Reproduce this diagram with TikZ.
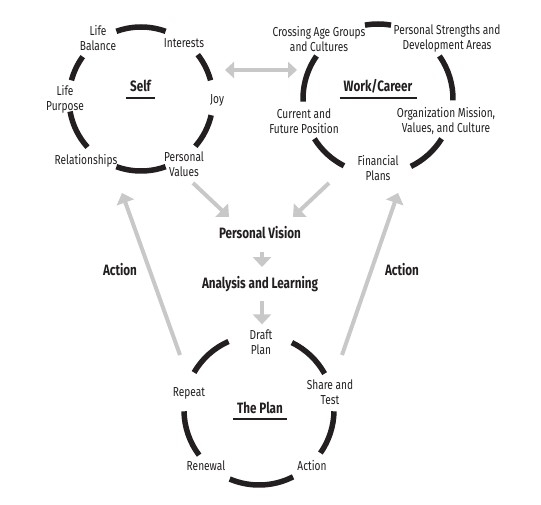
\documentclass[tikz,border=0pt]{standalone}
\usepackage{fontspec}
\setmainfont{Fira Sans}[FakeStretch=0.78]
\usetikzlibrary{arrows.meta}
\definecolor{ringblack}{RGB}{35,31,32}
\definecolor{flowgray}{RGB}{200,200,200}
\begin{document}
\begin{tikzpicture}[x=1pt,y=1pt,
    every node/.style={inner sep=0pt,align=center,text=ringblack,font=\fontsize{13}{15}\selectfont},
    ring/.style={draw=ringblack,line width=5.5pt},
    flow/.style={draw=flowgray,line width=4pt,-{Triangle[length=10pt,width=18pt]}},
    twoway/.style={flow,{Triangle[length=9pt,width=16pt]}-{Triangle[length=9pt,width=16pt]}},
    title/.style={anchor=base,font=\bfseries\fontsize{15}{17}\selectfont},
    heading/.style={font=\bfseries\fontsize{15}{17}\selectfont},
    uline/.style={draw=ringblack,line width=1.8pt}]
  \useasboundingbox (0,0) rectangle (541,504);
  % Self
  \draw[ring] (141,405) ++(70:72) arc[start angle=70,end angle=110,radius=72pt];
  \draw[ring] (141,405) ++(144:72) arc[start angle=144,end angle=165,radius=72pt];
  \draw[ring] (141,405) ++(190:72) arc[start angle=190,end angle=222,radius=72pt];
  \draw[ring] (141,405) ++(250:72) arc[start angle=250,end angle=290,radius=72pt];
  \draw[ring] (141,405) ++(-41:72) arc[start angle=-41,end angle=-13,radius=72pt];
  \draw[ring] (141,405) ++(15:72) arc[start angle=15,end angle=38,radius=72pt];
  \node[title] (self) at (140.5,412) {Self};
  \draw[uline] ([shift={(-4pt,-6pt)}]self.base west) -- ([shift={(4pt,-6pt)}]self.base east);
  \node (lifebal) at (98,466) {Life\\Balance};
  \node (interests) at (184,461) {Interests};
  \node (joy) at (217,404) {Joy};
  \node (pvalues) at (184,340) {Personal\\Values};
  \node (relations) at (86,343) {Relationships};
  \node (lifepur) at (65,405) {Life\\Purpose};
  % Work/Career
  \draw[ring] (378,405) ++(80:75) arc[start angle=80,end angle=100,radius=75pt];
  \draw[ring] (378,405) ++(145:75) arc[start angle=145,end angle=182,radius=75pt];
  \draw[ring] (378,405) ++(212:75) arc[start angle=212,end angle=243,radius=75pt];
  \draw[ring] (378,405) ++(-64:75) arc[start angle=-64,end angle=-32,radius=75pt];
  \draw[ring] (378,405) ++(-1:75) arc[start angle=-1,end angle=35,radius=75pt];
  \node[title] (work) at (378,412) {Work/Career};
  \draw[uline] ([shift={(-4pt,-6pt)}]work.base west) -- ([shift={(4pt,-6pt)}]work.base east);
  \node (crossing) at (319,465) {Crossing Age Groups\\and Cultures};
  \node (strengths) at (447,465) {Personal Strengths and\\Development Areas};
  \node (current) at (304,383) {Current and\\Future Position};
  \node (orgmission) at (446,383) {Organization Mission,\\Values, and Culture};
  \node (financial) at (378,336) {Financial\\Plans};
  % The Plan
  \draw[ring] (259,94) ++(114:75) arc[start angle=114,end angle=150,radius=75pt];
  \draw[ring] (259,94) ++(29:75) arc[start angle=29,end angle=64,radius=75pt];
  \draw[ring] (259,94) ++(-35:75) arc[start angle=-35,end angle=-1,radius=75pt];
  \draw[ring] (259,94) ++(247:75) arc[start angle=247,end angle=297,radius=75pt];
  \draw[ring] (259,94) ++(181:75) arc[start angle=181,end angle=217,radius=75pt];
  \node[title] (plan) at (260,91) {The Plan};
  \draw[uline] ([shift={(-4pt,-6pt)}]plan.base west) -- ([shift={(4pt,-6pt)}]plan.base east);
  \node (draft) at (261,162) {Draft\\Plan};
  \node (share) at (330,112) {Share and\\Test};
  \node (repeat) at (189,111) {Repeat};
  \node (renewal) at (206,38) {Renewal};
  \node (planaction) at (312,38) {Action};
  % middle
  \node[heading] (vision) at (260,271) {Personal Vision};
  \node[heading] (analysis) at (260,220) {Analysis and Learning};
  \node[heading] (actleft) at (120,234) {Action};
  \node[heading] (actright) at (402,234) {Action};
  \coordinate (selfout) at (225,434);
  \coordinate (workin) at (297,434);
  \coordinate (valtail) at (193,321);
  \coordinate (valtip) at (229,287);
  \coordinate (fintail) at (329,321);
  \coordinate (fintip) at (293,287);
  \coordinate (planl) at (180,149);
  \coordinate (selfin) at (122,311);
  \coordinate (planr) at (342,149);
  \coordinate (workback) at (398,311);
  \draw[twoway] (selfout) -- (workin);
  \draw[flow] (valtail) -- (valtip);
  \draw[flow] (fintail) -- (fintip);
  \draw[flow] ([xshift=2pt,yshift=-13pt]vision.south) -- ([xshift=2pt,yshift=9pt]analysis.north);
  \draw[flow] ([xshift=2pt,yshift=-9pt]analysis.south) -- ([xshift=1pt,yshift=5pt]draft.north);
  \draw[flow] (planl) -- (selfin);
  \draw[flow] (planr) -- (workback);
\end{tikzpicture}
\end{document}
